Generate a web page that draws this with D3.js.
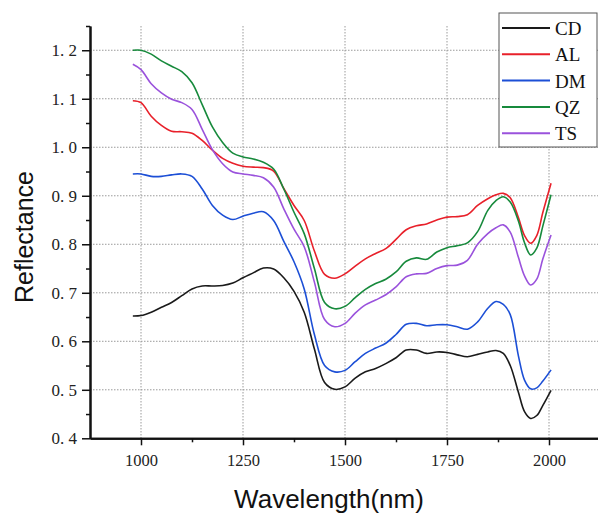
<!DOCTYPE html>
<html>
<head>
<meta charset="utf-8">
<script src="https://cdn.jsdelivr.net/npm/d3@7"></script>
<style>
  body { margin: 0; background: #fff; }
  .grid line { stroke: #9a9a9a; stroke-dasharray: 1.5,1.5; stroke-width: 1; }
  .axis path, .axis line { stroke: #111; }
  .axis text { font-family: "Liberation Serif", "Times New Roman", serif; fill: #222; }
</style>
</head>
<body>
<div id="chart"></div>
<script>
// Chart data
var wavelengths = [980, 1000, 1025, 1050, 1075, 1100, 1125, 1150, 1175, 1200, 1225, 1250, 1275, 1300, 1325,
  1350, 1375, 1400, 1425, 1450, 1475, 1500, 1525, 1550, 1575, 1600, 1625, 1650, 1675, 1700, 1725, 1750,
  1775, 1800, 1825, 1850, 1870, 1888, 1905, 1925, 1940, 1955, 1970, 1985, 2005];

var seriesNames = ["CD", "AL", "DM", "QZ", "TS"];
var seriesColors = ["#1a1a1a", "#e8202a", "#1c4fd6", "#178a3c", "#9a52dc"];

var cdValues = [0.652, 0.653, 0.660, 0.670, 0.680, 0.694, 0.708, 0.714, 0.714, 0.715, 0.720, 0.731, 0.741, 0.751, 0.749,
  0.731, 0.703, 0.660, 0.584, 0.515, 0.501, 0.506, 0.524, 0.537, 0.544, 0.554, 0.566, 0.582, 0.582, 0.575, 0.578, 0.577,
  0.572, 0.568, 0.573, 0.578, 0.581, 0.575, 0.550, 0.495, 0.455, 0.441, 0.447, 0.468, 0.499];

var alValues = [1.096, 1.092, 1.064, 1.045, 1.033, 1.032, 1.029, 1.014, 0.994, 0.977, 0.967, 0.961, 0.959, 0.958, 0.951,
  0.915, 0.880, 0.849, 0.786, 0.738, 0.730, 0.739, 0.755, 0.770, 0.781, 0.791, 0.810, 0.830, 0.838, 0.842, 0.850, 0.856,
  0.857, 0.861, 0.880, 0.894, 0.902, 0.905, 0.896, 0.855, 0.818, 0.802, 0.818, 0.866, 0.926];

var dmValues = [0.945, 0.945, 0.940, 0.940, 0.943, 0.945, 0.940, 0.914, 0.880, 0.860, 0.851, 0.858, 0.864, 0.867, 0.849,
  0.806, 0.764, 0.708, 0.614, 0.550, 0.537, 0.540, 0.558, 0.575, 0.586, 0.596, 0.614, 0.635, 0.637, 0.632, 0.634, 0.634,
  0.630, 0.625, 0.640, 0.668, 0.682, 0.676, 0.655, 0.570, 0.520, 0.502, 0.504, 0.518, 0.541];

var qzValues = [1.200, 1.200, 1.192, 1.178, 1.167, 1.156, 1.133, 1.088, 1.042, 1.010, 0.988, 0.980, 0.976, 0.969, 0.955,
  0.914, 0.866, 0.822, 0.750, 0.680, 0.667, 0.672, 0.690, 0.707, 0.719, 0.728, 0.743, 0.765, 0.772, 0.769, 0.784, 0.793,
  0.797, 0.803, 0.826, 0.870, 0.890, 0.898, 0.887, 0.848, 0.803, 0.778, 0.792, 0.838, 0.902];

var tsValues = [1.171, 1.160, 1.131, 1.112, 1.099, 1.092, 1.078, 1.037, 0.995, 0.966, 0.949, 0.945, 0.942, 0.937, 0.918,
  0.873, 0.831, 0.795, 0.722, 0.645, 0.630, 0.637, 0.658, 0.675, 0.685, 0.696, 0.712, 0.733, 0.739, 0.740, 0.750, 0.756,
  0.757, 0.767, 0.800, 0.822, 0.834, 0.840, 0.825, 0.773, 0.735, 0.716, 0.728, 0.770, 0.819];

var allValues = [cdValues, alValues, dmValues, qzValues, tsValues];

var xTicks = [1000, 1250, 1500, 1750, 2000];
var xMinorTicks = [1125, 1375, 1625, 1875];
var yTicks = [0.4, 0.5, 0.6, 0.7, 0.8, 0.9, 1.0, 1.1, 1.2];
var yMinorTicks = [0.45, 0.55, 0.65, 0.75, 0.85, 0.95, 1.05, 1.15, 1.25];

var svgWidth = 598;
var svgHeight = 514;

var svg = d3.select("#chart")
  .append("svg")
  .attr("width", svgWidth)
  .attr("height", svgHeight);

var xScale = d3.scaleLinear().domain([875, 2125]).range([90, 600]);
var yScale = d3.scaleLinear().domain([0.4, 1.25]).range([438.3, 26]);

// dotted grid
var grid = svg.append("g").attr("class", "grid");
grid.selectAll("line.v")
  .data(xTicks)
  .enter()
  .append("line")
  .attr("x1", d => xScale(d)).attr("x2", d => xScale(d))
  .attr("y1", yScale(1.25)).attr("y2", yScale(0.4));
grid.selectAll("line.h")
  .data(yTicks.slice(1))
  .enter()
  .append("line")
  .attr("x1", xScale(875)).attr("x2", svgWidth)
  .attr("y1", d => yScale(d)).attr("y2", d => yScale(d));

// lines
var line = d3.line()
  .x((d, i) => xScale(wavelengths[i]))
  .y(d => yScale(d))
  .curve(d3.curveCatmullRom.alpha(0.5));

svg.append("g").selectAll("path")
  .data(allValues)
  .enter()
  .append("path")
  .attr("fill", "none")
  .attr("stroke", (d, i) => seriesColors[i])
  .attr("stroke-width", 1.6)
  .attr("d", line);

// axes
var xAxis = d3.axisBottom(xScale).tickValues(xTicks).tickSize(7).tickSizeOuter(0).tickPadding(9)
  .tickFormat(d3.format("d"));
var xMinor = d3.axisBottom(xScale).tickValues(xMinorTicks).tickSize(4).tickSizeOuter(0).tickFormat("");
var yAxis = d3.axisLeft(yScale).tickValues(yTicks).tickSize(8).tickSizeOuter(0).tickPadding(5)
  .tickFormat(d => d3.format(".1f")(d).replace(".", ". "));
var yMinor = d3.axisLeft(yScale).tickValues(yMinorTicks).tickSize(4).tickSizeOuter(0).tickFormat("");

var gx = svg.append("g").attr("class", "axis").attr("transform", `translate(0, ${yScale(0.4)})`).call(xAxis);
svg.append("g").attr("class", "axis").attr("transform", `translate(0, ${yScale(0.4)})`).call(xMinor);
var gy = svg.append("g").attr("class", "axis").attr("transform", `translate(${xScale(875)}, 0)`).call(yAxis);
svg.append("g").attr("class", "axis").attr("transform", `translate(${xScale(875)}, 0)`).call(yMinor);

svg.selectAll(".axis path.domain").attr("stroke-width", 2);
svg.selectAll(".axis .tick line").attr("stroke-width", 1.5);
gx.selectAll("text").style("font-size", "16.5px");
gy.selectAll("text").style("font-size", "17px");

// axis titles
svg.append("text")
  .attr("x", 329)
  .attr("y", 508)
  .attr("text-anchor", "middle")
  .style("font-family", "'Liberation Sans', Arial, sans-serif")
  .style("font-size", "26px")
  .attr("fill", "#111")
  .text("Wavelength(nm)");

svg.append("text")
  .attr("transform", "translate(33, 237) rotate(-90)")
  .attr("text-anchor", "middle")
  .style("font-family", "'Liberation Sans', Arial, sans-serif")
  .style("font-size", "25px")
  .attr("fill", "#111")
  .text("Reflectance");

// legend
var legend = svg.append("g").attr("transform", "translate(499, 13)");
legend.append("rect")
  .attr("width", 98).attr("height", 134)
  .attr("fill", "#fff").attr("stroke", "#555").attr("stroke-width", 1);

var items = legend.selectAll("g.item")
  .data(seriesNames)
  .enter()
  .append("g")
  .attr("transform", (d, i) => `translate(0, ${15 + i * 26.3})`);
items.append("line")
  .attr("x1", 3).attr("x2", 51)
  .attr("stroke", (d, i) => seriesColors[i])
  .attr("stroke-width", 2);
items.append("text")
  .attr("x", 56)
  .attr("y", 7)
  .style("font-family", "'Liberation Serif', 'Times New Roman', serif")
  .style("font-size", "19px")
  .attr("fill", "#111")
  .text(d => d);
</script>
</body>
</html>
